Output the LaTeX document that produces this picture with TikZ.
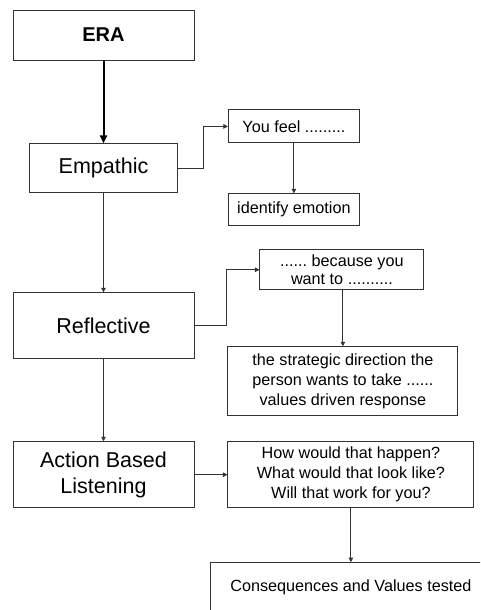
\documentclass[tikz,border=0pt]{standalone}
\usepackage{fontspec}
\setmainfont{Liberation Sans}
\usetikzlibrary{arrows.meta,positioning}
\definecolor{LineGrey}{HTML}{333333}
\frenchspacing

\begin{document}
\begin{tikzpicture}[x=1pt,y=-1pt,
  box/.style={draw=LineGrey,line width=0.9pt,fill=white,inner sep=0pt,align=center},
  bigtxt/.style={font=\fontsize{21.5}{26}\selectfont},
  smalltxt/.style={font=\fontsize{16.2}{20}\selectfont},
  link/.style={draw=LineGrey,line width=0.9pt,-{Triangle[length=4.5pt,width=4.5pt]}}]
  \clip (0,0) rectangle (480,610);
  \fill[white] (0,0) rectangle (480,610);
  % left column
  \node[box,font=\fontsize{20}{24}\selectfont\bfseries,minimum width=181pt,minimum height=50pt] (era) at (103.5,35) {ERA};
  \node[box,bigtxt,minimum width=148pt,minimum height=49pt,below=83pt of era] (emp) {Empathic};
  \node[box,bigtxt,minimum width=181pt,minimum height=66pt,below=99pt of emp] (refl) {Reflective};
  \node[box,bigtxt,minimum width=181pt,minimum height=66pt,below=82pt of refl] (act) {Action Based\\Listening};
  % right column
  \node[box,smalltxt,minimum width=131pt,minimum height=33pt,right=50pt of emp,yshift=42pt] (feel) {You feel .........};
  \node[box,smalltxt,minimum width=131pt,minimum height=32pt,below=50pt of feel] (emo) {identify emotion};
  \node[box,font=\fontsize{16.2}{17.5}\selectfont,minimum width=164pt,minimum height=40pt,right=65pt of refl,yshift=56pt] (because) {...... because you\\want to ..........};
  \node[box,smalltxt,minimum width=230pt,minimum height=69pt,below=56pt of because,xshift=1pt] (strat) {the strategic direction the\\person wants to take ......\\values driven response};
  \node[box,smalltxt,minimum width=246pt,minimum height=66pt,right=33pt of act] (quest) {How would that happen?\\What would that look like?\\Will that work for you?};
  \node[box,smalltxt,text depth=15pt,minimum width=280pt,minimum height=61pt,below=54pt of quest] (cons) {Consequences and Values tested};
  % connectors
  \draw[draw=black,line width=2pt,-{Triangle[length=8pt,width=7pt]}] (era) -- (emp);
  \draw[link] (emp) -- (refl);
  \draw[link] (refl) -- (act);
  \draw[link] (emp.east) -- ++(25,0) |- (feel.west);
  \draw[link] (feel) -- (emo);
  \draw[link] (refl.east) -- ++(32,0) |- (because.west);
  \draw[link] (strat.north |- because.south) -- (strat.north);
  \draw[link] (act) -- (quest);
  \draw[link] (quest) -- (cons);
\end{tikzpicture}
\end{document}
